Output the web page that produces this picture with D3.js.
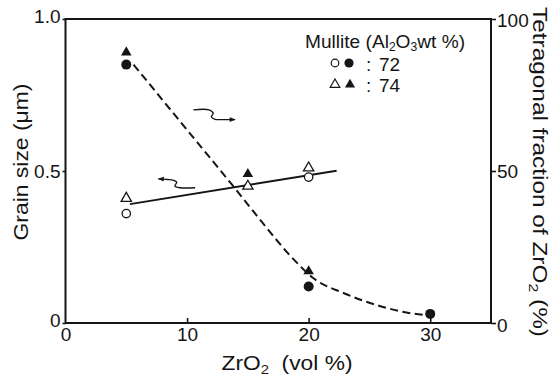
<!DOCTYPE html>
<html>
<head>
<meta charset="utf-8">
<script src="https://cdn.jsdelivr.net/npm/d3@7"></script>
<style>
  html, body { margin: 0; padding: 0; background: #fff; }
  svg { display: block; }
  svg text { font-family: "Liberation Sans", Arimo, Arial, sans-serif !important; fill: #151515; }
</style>
</head>
<body>
<svg id="chart" width="555" height="380"></svg>
<script>
// ---- data ----
const xTicks = [0, 10, 20, 30];
const leftTicks = [0, 0.5, 1.0];
const leftTickLabels = ["0", "0.5", "1.0"];
const rightTicks = [0, 50, 100];
const rightTickLabels = ["0", "50", "100"];

// grain size (left axis), open markers
const openCircleX = [5, 20];
const openCircleY = [0.36, 0.48];          // Al2O3 72 wt%
const openTriX = [5, 15, 20];
const openTriY = [0.41, 0.45, 0.51];       // Al2O3 74 wt%

// tetragonal fraction (right axis), filled markers
const filledCircleX = [5, 20, 30];
const filledCircleY = [85, 12, 3];         // 72 wt%
const filledTriX = [5, 15, 20];
const filledTriY = [89, 49, 17];           // 74 wt%

// fitted lines
const grainLineX = [5.3, 22.3];
const grainLineY = [0.391, 0.501];
const fracCurveX = [5.6, 10, 13.8, 16, 18.75, 20.4, 22.9, 25.6, 28.4, 29.6];
const fracCurveY = [85, 63.5, 45, 34, 21, 14.7, 9.8, 5.9, 3.2, 2.6];

// annotation arrows (data units, left-axis y)
const arrowRightX = [10.52, 11.8, 12.15, 12.0, 12.3, 12.8, 13.95];
const arrowRightY = [0.701, 0.701, 0.690, 0.678, 0.670, 0.669, 0.669];
const arrowLeftX = [10.66, 9.4, 9.0, 9.15, 8.85, 8.4, 7.64];
const arrowLeftY = [0.445, 0.445, 0.451, 0.463, 0.470, 0.472, 0.474];

const legendLabels = ["72", "74"];

// ---- layout ----
const svg = d3.select("#chart");
const L = 65.5, R = 491, T = 19, B = 323;
const x = d3.scaleLinear().domain([0, 35]).range([L, R]);
const yL = d3.scaleLinear().domain([0, 1]).range([B, T]);
const yR = d3.scaleLinear().domain([0, 100]).range([B, T]);
const ink = "#151515";

// frame
svg.append("rect").attr("x", L).attr("y", T).attr("width", R - L).attr("height", B - T)
  .attr("fill", "none").attr("stroke", ink).attr("stroke-width", 2);

// axes
const fs = 19;
const gx = svg.append("g").attr("transform", `translate(0,${B})`)
  .call(d3.axisBottom(x).tickValues(xTicks).tickSize(-5).tickPadding(5).tickFormat(d3.format("d")));
const gl = svg.append("g").attr("transform", `translate(${L},0)`)
  .call(d3.axisLeft(yL).tickValues(leftTicks).tickSize(3).tickPadding(2)
    .tickFormat((d, i) => leftTickLabels[i]));
const gr = svg.append("g").attr("transform", `translate(${R},0)`)
  .call(d3.axisRight(yR).tickValues(rightTicks).tickSize(5).tickPadding(1)
    .tickFormat((d, i) => rightTickLabels[i]));
[gx, gl, gr].forEach(g => {
  g.attr("font-family", null);
  g.select(".domain").remove();
  g.selectAll("line").attr("stroke", ink).attr("stroke-width", 1.6);
  g.selectAll("text").attr("font-size", fs).attr("fill", ink);
});
gx.selectAll(".tick").filter(d => d === 0).select("line").remove();
gl.selectAll(".tick").filter(d => d === 0).select("text").attr("dy", "0.2em");
gl.selectAll(".tick").filter(d => d === 1).select("text").attr("dy", "0.2em");
gr.selectAll(".tick").filter(d => d === 0).select("text").attr("dy", "0.45em");
gr.selectAll(".tick").filter(d => d === 100).select("text").attr("dy", "0.4em");

// fitted lines
svg.append("path")
  .datum(grainLineX.map((v, i) => [v, grainLineY[i]]))
  .attr("d", d3.line().x(d => x(d[0])).y(d => yL(d[1])))
  .attr("fill", "none").attr("stroke", ink).attr("stroke-width", 2);

svg.append("path")
  .datum(fracCurveX.map((v, i) => [v, fracCurveY[i]]))
  .attr("d", d3.line().curve(d3.curveMonotoneX).x(d => x(d[0])).y(d => yR(d[1])))
  .attr("fill", "none").attr("stroke", ink).attr("stroke-width", 2)
  .attr("stroke-dasharray", "8,4.5");

// arrows
const defs = svg.append("defs");
defs.append("marker").attr("id", "ah").attr("viewBox", "0 0 10 10")
  .attr("refX", 9).attr("refY", 5).attr("markerWidth", 9).attr("markerHeight", 6)
  .attr("markerUnits", "userSpaceOnUse").attr("orient", "auto")
  .append("path").attr("d", "M0,1 L10,5 L0,9 Z").attr("fill", ink);
const arrowLine = d3.line().curve(d3.curveCatmullRom).x(d => x(d[0])).y(d => yL(d[1]));
svg.append("path").datum(arrowRightX.map((v, i) => [v, arrowRightY[i]]))
  .attr("d", arrowLine).attr("fill", "none").attr("stroke", ink).attr("stroke-width", 1.4)
  .attr("marker-end", "url(#ah)");
svg.append("path").datum(arrowLeftX.map((v, i) => [v, arrowLeftY[i]]))
  .attr("d", arrowLine).attr("fill", "none").attr("stroke", ink).attr("stroke-width", 1.4)
  .attr("marker-end", "url(#ah)");

// markers
const tri = d3.symbol().type(d3.symbolTriangle);
svg.append("g").selectAll("circle").data(openCircleX.map((v, i) => [v, openCircleY[i]])).join("circle")
  .attr("cx", d => x(d[0])).attr("cy", d => yL(d[1])).attr("r", 4.2)
  .attr("fill", "#fff").attr("stroke", ink).attr("stroke-width", 1.3);
svg.append("g").selectAll("path").data(openTriX.map((v, i) => [v, openTriY[i]])).join("path")
  .attr("d", tri.size(46)).attr("transform", d => `translate(${x(d[0])},${yL(d[1])})`)
  .attr("fill", "#fff").attr("stroke", ink).attr("stroke-width", 1.3);
svg.append("g").selectAll("circle").data(filledCircleX.map((v, i) => [v, filledCircleY[i]])).join("circle")
  .attr("cx", d => x(d[0])).attr("cy", d => yR(d[1])).attr("r", 5)
  .attr("fill", ink);
svg.append("g").selectAll("path").data(filledTriX.map((v, i) => [v, filledTriY[i]])).join("path")
  .attr("d", tri.size(48)).attr("transform", d => `translate(${x(d[0])},${yR(d[1])})`)
  .attr("fill", ink);

// legend
const lg = svg.append("g");
const t1 = lg.append("text").attr("x", 305).attr("y", 48).attr("font-size", 19)
  .attr("textLength", 160).attr("lengthAdjust", "spacingAndGlyphs");
t1.append("tspan").text("Mullite (Al");
t1.append("tspan").text("2").attr("font-size", 12).attr("dy", 2.5);
t1.append("tspan").text("O").attr("dy", -2.5);
t1.append("tspan").text("3").attr("font-size", 12).attr("dy", 2.5);
t1.append("tspan").text("wt %)").attr("dy", -2.5);

const rowY = [63, 84];
lg.append("circle").attr("cx", 335).attr("cy", rowY[0]).attr("r", 3.8)
  .attr("fill", "#fff").attr("stroke", ink).attr("stroke-width", 1.2);
lg.append("circle").attr("cx", 349).attr("cy", rowY[0]).attr("r", 4.6).attr("fill", ink);
lg.append("path").attr("d", tri.size(40)).attr("transform", `translate(335,${rowY[1] + 0.5})`)
  .attr("fill", "#fff").attr("stroke", ink).attr("stroke-width", 1.2);
lg.append("path").attr("d", tri.size(44)).attr("transform", `translate(350,${rowY[1] + 0.5})`)
  .attr("fill", ink);
legendLabels.forEach((lab, i) => {
  lg.append("text").attr("x", 366).attr("y", rowY[i] + 8).attr("font-size", 19).text(":");
  lg.append("text").attr("x", 379).attr("y", rowY[i] + 8).attr("font-size", 19).text(lab);
});

// axis titles
const xt = svg.append("text").attr("x", 287).attr("y", 370).attr("text-anchor", "middle")
  .attr("font-size", 20).attr("textLength", 131).attr("lengthAdjust", "spacingAndGlyphs");
xt.append("tspan").text("ZrO");
xt.append("tspan").text("2").attr("font-size", 13).attr("dy", 4);
xt.append("tspan").text("\u00A0 (vol %)").attr("dy", -4);

svg.append("text").attr("transform", "translate(28,162) rotate(-90)")
  .attr("text-anchor", "middle").attr("font-size", 20)
  .attr("textLength", 157).attr("lengthAdjust", "spacingAndGlyphs")
  .text("Grain size (\u03BCm)");

const rt = svg.append("text").attr("transform", "translate(533,172) rotate(90)")
  .attr("text-anchor", "middle").attr("font-size", 20)
  .attr("textLength", 330).attr("lengthAdjust", "spacingAndGlyphs");
rt.append("tspan").text("Tetragonal fraction of ZrO");
rt.append("tspan").text("2").attr("font-size", 13).attr("dy", 4);
rt.append("tspan").text(" (%)").attr("dy", -4);
</script>
</body>
</html>
